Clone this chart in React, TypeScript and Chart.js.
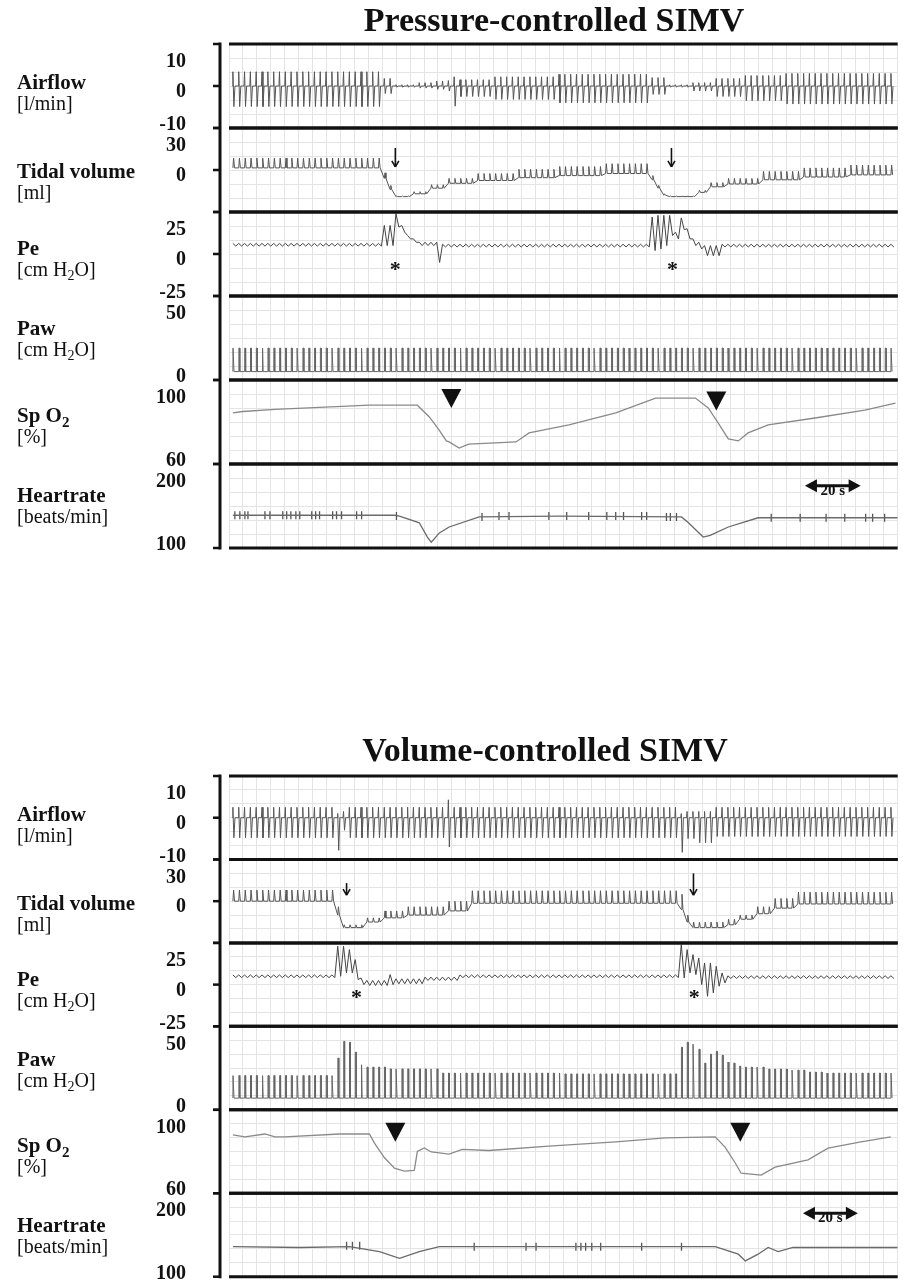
import React, { useEffect, useRef } from "react";
import { Chart, registerables } from "chart.js";

Chart.register(...registerables);

// ---------------- time base (seconds) ----------------
const timeMin = 0;
const timeMax = 240;
const gridStepSeconds = 5;
const breathStart = 1.4; // first ventilator breath (s)
const breathPeriod = 2.09; // ventilator cycle (s)

// ---------------- strips ----------------
const stripIds = ["air", "tv", "pe", "paw", "spo2", "hr"];
const stripNames = ["Airflow", "Tidal volume", "Pe", "Paw", "Sp O₂", "Heartrate"];
const stripUnits = ["[l/min]", "[ml]", "[cm H₂O]", "[cm H₂O]", "[%]", "[beats/min]"];
const stripMin = [-10, -30, -25, 0, 60, 100];
const stripMax = [10, 30, 25, 50, 100, 200];
const stripTickLabels = [[10, 0, -10], [30, 0], [25, 0, -25], [50, 0], [100, 60], [200, 100]];
const panelTitles = ["Pressure-controlled SIMV", "Volume-controlled SIMV"];

// ---------------- data: run-length per breath [number of breaths, value] ----------------
// Pressure-controlled SIMV
const pcAirflowPeak = [[26, 3.4], [2, 1.8], [4, 0.3], [3, 0.8], [2, 1.2], [1, 1.3], [1, 2.2], [6, 1.5], [11, 2.2], [16, 2.8], [3, 2], [4, 0.3], [4, 0.8], [5, 1.8], [7, 2.5], [19, 3.0]];
const pcAirflowTrough = [[26, -4.9], [2, -1.8], [4, -0.3], [3, -0.5], [2, -0.8], [1, -1.2], [1, -4.8], [6, -2.5], [11, -3.2], [16, -4.0], [3, -2], [4, -0.3], [4, -1.2], [5, -2.5], [7, -3.5], [19, -4.3]];
const pcTidalBase = [[26, 1.5], [1, -6], [1, -14], [3, -19], [3, -17], [3, -13], [5, -9.5], [7, -7.5], [7, -5.5], [8, -4], [8, -2.5], [1, -7], [1, -13], [1, -18], [5, -19], [2, -16], [3, -12], [6, -10], [7, -7], [8, -5], [8, -3.5]];
const pcTidalPeak = [[26, 8.5], [1, -2], [1, -11], [3, -18.5], [3, -15.5], [3, -10.5], [5, -6], [7, -2.5], [7, 0.5], [8, 2.5], [8, 4.5], [1, -4], [1, -11], [1, -17], [5, -18.5], [2, -14.5], [3, -9], [6, -6], [7, -1], [8, 1.5], [8, 3.5]];
const pcPeLevel = [[26, 5.5], [1, 11], [1, 11], [1, 20], [1, 15], [1, 10], [1, 8], [3, 6], [1, 1], [36, 5], [1, 12], [1, 13], [1, 14], [1, 17], [1, 11], [1, 18], [1, 12], [1, 7], [1, 5], [3, 2], [30, 5]];
const pcPeSwing = [[26, 0.8], [1, 6], [1, 6], [1, 4], [1, 2], [1, 1], [1, 1], [3, 1], [1, 6], [36, 0.8], [1, 10], [1, 10], [1, 9], [1, 6], [1, 2], [1, 3.5], [1, 3], [1, 2], [1, 2], [3, 3], [30, 0.8]];
const pcPawPeak = [[114, 19]];
const pcPawBase = [[114, 5]];
const pcSpo2 = [[1.4, 84.3], [5, 85], [16.5, 86], [32.5, 87], [50.4, 88], [67.6, 88], [71.9, 82.4], [75.5, 76], [78, 71], [79, 70.5], [82.6, 67.6], [86, 69.5], [103, 70.5], [107.7, 74.8], [122, 78.6], [138.8, 84.3], [153.1, 91.4], [167.4, 91.4], [172, 86.7], [175.6, 79.5], [179.2, 72], [182.8, 71], [186.3, 74.8], [193.5, 78.6], [210.3, 81.9], [228.2, 85.7], [239.2, 89]];
const pcHeartrate = [[1.4, 139], [59.4, 139], [61.2, 138], [68.3, 130], [71.2, 113], [72.6, 107], [75.5, 118], [79, 125], [89.8, 137], [118.4, 138], [162.4, 137], [164.9, 130], [170.2, 113], [172.7, 115], [179.2, 125], [189.9, 136], [240, 136]];
const pcHeartrateArtifacts = [[2.1, 139], [3.9, 139], [5.7, 139], [6.8, 139], [12.9, 139], [14.7, 139], [19.3, 139], [20.7, 139], [22.2, 139], [24, 139], [25.4, 139], [29.7, 139], [31.1, 139], [32.5, 139], [37.2, 139], [38.6, 139], [40.4, 139], [45.8, 139], [47.6, 139], [60.1, 138], [90.8, 137], [96.9, 138], [100.5, 138], [114.8, 138], [121.2, 138], [129.1, 138], [135.6, 138], [138.8, 138], [141.6, 138], [148.1, 138], [149.9, 138], [157, 137], [158.4, 137], [160.6, 137], [194.6, 136], [205, 136], [214.3, 136], [221, 136], [228.5, 136], [231, 136], [235.3, 136]];

// Volume-controlled SIMV
const vcAirflowPeak = [[18, 2.5], [1, 1], [1, 1.5], [17, 2.5], [1, 4.3], [39, 2.5], [1, 1], [2, 1.5], [3, 1.5], [31, 2.5]];
const vcAirflowTrough = [[18, -4.8], [1, -7.8], [1, -3], [17, -4.8], [1, -7], [39, -4.8], [1, -8.3], [2, -5], [3, -6], [31, -4.5]];
const vcTidalBase = [[18, 0], [1, -10], [4, -19], [3, -15], [4, -12], [7, -10], [4, -7], [36, -1.5], [1, -6], [1, -15], [6, -19], [2, -17], [3, -13], [3, -9], [4, -5], [17, -2]];
const vcTidalPeak = [[18, 8], [1, -4], [4, -17], [3, -12], [4, -7], [7, -4], [4, 0], [36, 7.5], [1, 5], [1, -10], [6, -15], [2, -13], [3, -10], [3, -4], [4, 2], [17, 6.5]];
const vcPeLevel = [[18, 5], [1, 14], [1, 15], [1, 14], [1, 9], [1, 2], [4, 1], [1, 3], [5, 2], [6, 3.5], [38, 5], [1, 14], [1, 14], [1, 12], [1, 8], [1, 3], [1, 4], [1, 5], [1, 4], [29, 4.5]];
const vcPeSwing = [[18, 0.8], [1, 9], [1, 8], [1, 7], [1, 6], [1, 2], [4, 1.5], [1, 3], [5, 1.5], [6, 1], [38, 0.8], [1, 10], [1, 7], [1, 6], [1, 8], [1, 10], [1, 9], [1, 6], [1, 3], [29, 0.8]];
const vcPawPeak = [[18, 20.5], [1, 31], [1, 41], [1, 40.5], [1, 34.5], [1, 27], [4, 25.6], [9, 24.5], [21, 22], [20, 21.5], [1, 37.5], [1, 40.5], [1, 39.3], [1, 36.3], [1, 28], [1, 33.3], [1, 35], [1, 32.7], [1, 28.6], [1, 28], [1, 26.2], [4, 25.6], [4, 24.4], [3, 23.8], [3, 22.6], [12, 22]];
const vcPawBase = [[114, 7]];
const vcSpo2 = [[1.4, 88], [5.7, 87], [12.9, 88.4], [16.5, 87], [20, 87], [39.7, 88.4], [50.4, 88.4], [52.2, 84], [55.8, 77], [59.4, 72], [62.9, 70.6], [66.5, 71], [67.6, 80], [70.1, 81.7], [72.6, 79.8], [79, 78.8], [83.7, 81], [93.3, 80.5], [114.8, 82.6], [138.8, 84.6], [156.7, 86.5], [174.5, 87], [178.1, 82], [181.7, 74.5], [183.8, 69.6], [191, 68.7], [196, 72.5], [207.8, 76], [215, 81.6], [226.8, 84.6], [237.5, 87]];
const vcHeartrate = [[1.4, 136], [25.4, 135], [43.3, 136], [54, 130], [61.2, 122], [68.3, 130], [75.5, 136], [174.5, 136], [182.8, 127], [185.3, 119], [189.9, 127], [193.5, 135], [197.1, 130], [202.4, 135], [240, 135]];
const vcHeartrateArtifacts = [[42.2, 137], [44.3, 137], [46.9, 137], [88, 136], [106.6, 136], [110.2, 136], [124.5, 136], [126.3, 136], [128, 136], [130.2, 136], [133.4, 136], [148.1, 136], [162.4, 136]];

// ---------------- annotations (data coordinates) ----------------
const pcArrowsTidal = [[59.7, 15.7, 2.2], [158.8, 15.7, 2.2]]; // t, from, to
const pcStarsPe = [[59.7, -6.5], [159.2, -6.5]];
const pcTrianglesSpo2 = [[79.8, 91.2], [174.9, 90]];
const pcTimeBar = [206.7, 226.7, 174];
const vcArrowsTidal = [[42.2, 13, 4.3], [166.7, 20, 4.3]];
const vcStarsPe = [[45.8, -4.8], [167, -4.8]];
const vcTrianglesSpo2 = [[59.7, 89.2], [183.5, 89.2]];
const vcTimeBar = [206, 225.7, 176];

// ---------------- layout / style ----------------
const FONT = '"Liberation Serif", "Times New Roman", serif';
const GRID = "#e4e4e4";
const TRACE = "#555555";
const panelLayouts = [
  { top: 0, height: 640, padTop: 44, padBottom: 92, titleX: 554, titleY: 22 },
  { top: 640, height: 642, padTop: 136, padBottom: 5, titleX: 545, titleY: 112 },
];
const nameOffsets = [40, 45, 38, 34, 37, 33];

type Run = number[];
function expand(runs: Run[]): number[] {
  const out: number[] = [];
  runs.forEach(([n, v]) => {
    for (let k = 0; k < n; k++) out.push(v);
  });
  return out;
}
const breathTime = (i: number) => breathStart + i * breathPeriod;

function airflowPoints(peakRuns: Run[], troughRuns: Run[]) {
  const up = expand(peakRuns);
  const down = expand(troughRuns);
  const pts: { x: number; y: number }[] = [];
  up.forEach((u, i) => {
    const t = breathTime(i);
    pts.push({ x: t - 0.2, y: 0 }, { x: t, y: u }, { x: t + 0.35, y: down[i] }, { x: t + 0.75, y: 0 });
  });
  return pts;
}
function tidalPoints(baseRuns: Run[], peakRuns: Run[]) {
  const b = expand(baseRuns);
  const p = expand(peakRuns);
  const pts: { x: number; y: number }[] = [];
  b.forEach((bv, i) => {
    const t = breathTime(i);
    pts.push({ x: t, y: bv }, { x: t + 0.25, y: p[i] }, { x: t + 0.6, y: bv });
  });
  return pts;
}
function pePoints(levelRuns: Run[], swingRuns: Run[]) {
  const L = expand(levelRuns);
  const a = expand(swingRuns);
  const pts: { x: number; y: number }[] = [];
  L.forEach((lv, i) => {
    const t = breathTime(i);
    pts.push({ x: t, y: lv + a[i] }, { x: t + 1.05, y: lv - a[i] });
  });
  return pts;
}
function pawPoints(peakRuns: Run[], baseRuns: Run[]) {
  const p = expand(peakRuns);
  const b = expand(baseRuns);
  const pts: { x: number; y: number }[] = [];
  p.forEach((pv, i) => {
    const t = breathTime(i);
    pts.push({ x: t, y: b[i] }, { x: t + 0.05, y: pv }, { x: t + 0.35, y: pv }, { x: t + 0.4, y: b[i] });
  });
  return pts;
}
const pairPoints = (arr: number[][]) => arr.map(([x, y]) => ({ x, y }));

const panelData = [
  {
    air: airflowPoints(pcAirflowPeak, pcAirflowTrough),
    tv: tidalPoints(pcTidalBase, pcTidalPeak),
    pe: pePoints(pcPeLevel, pcPeSwing),
    paw: pawPoints(pcPawPeak, pcPawBase),
    spo2: pairPoints(pcSpo2),
    hr: pairPoints(pcHeartrate),
    hrArt: pairPoints(pcHeartrateArtifacts),
    arrows: pcArrowsTidal,
    stars: pcStarsPe,
    triangles: pcTrianglesSpo2,
    timeBar: pcTimeBar,
  },
  {
    air: airflowPoints(vcAirflowPeak, vcAirflowTrough),
    tv: tidalPoints(vcTidalBase, vcTidalPeak),
    pe: pePoints(vcPeLevel, vcPeSwing),
    paw: pawPoints(vcPawPeak, vcPawBase),
    spo2: pairPoints(vcSpo2),
    hr: pairPoints(vcHeartrate),
    hrArt: pairPoints(vcHeartrateArtifacts),
    arrows: vcArrowsTidal,
    stars: vcStarsPe,
    triangles: vcTrianglesSpo2,
    timeBar: vcTimeBar,
  },
];

function drawRich(ctx: CanvasRenderingContext2D, text: string, x: number, y: number, size: number, bold: boolean, align: "left" | "right") {
  const base = `${bold ? "bold " : ""}${size}px ${FONT}`;
  const sub = `${bold ? "bold " : ""}${Math.round(size * 0.72)}px ${FONT}`;
  const parts: { s: string; sub: boolean; w: number }[] = [];
  for (const ch of text) {
    const isSub = ch === "₂";
    const c = isSub ? "2" : ch;
    const last = parts[parts.length - 1];
    if (last && last.sub === isSub) last.s += c;
    else parts.push({ s: c, sub: isSub, w: 0 });
  }
  let total = 0;
  parts.forEach((p) => {
    ctx.font = p.sub ? sub : base;
    p.w = ctx.measureText(p.s).width;
    total += p.w;
  });
  let cx = align === "right" ? x - total : x;
  ctx.textAlign = "left";
  ctx.textBaseline = "middle";
  parts.forEach((p) => {
    ctx.font = p.sub ? sub : base;
    ctx.fillText(p.s, cx, p.sub ? y + size * 0.28 : y);
    cx += p.w;
  });
}

function decorPlugin(panelIndex: number) {
  const L = panelLayouts[panelIndex];
  const D = panelData[panelIndex];
  return {
    id: "stripDecor",
    afterDraw(chart: any) {
      const { ctx, chartArea, scales } = chart;
      const xs = scales.x;
      ctx.save();
      ctx.fillStyle = "#111";
      ctx.strokeStyle = "#111";
      ctx.lineCap = "butt";
      const line = (x1: number, y1: number, x2: number, y2: number) => {
        ctx.beginPath();
        ctx.moveTo(x1, y1);
        ctx.lineTo(x2, y2);
        ctx.stroke();
      };
      // strip separators
      ctx.lineWidth = 3;
      stripIds.forEach((id) => {
        const s = scales[id];
        line(chartArea.left, s.top, chartArea.right, s.top);
        line(chartArea.left, s.bottom, chartArea.right, s.bottom);
      });
      // left axis
      const axisX = chartArea.left - 9;
      const first = scales[stripIds[0]];
      const last = scales[stripIds[stripIds.length - 1]];
      line(axisX, first.top - 1.5, axisX, last.bottom + 1.5);
      ctx.lineWidth = 2.5;
      stripIds.forEach((id, k) => {
        const s = scales[id];
        line(axisX - 7, s.top, axisX, s.top);
        line(axisX - 7, s.bottom, axisX, s.bottom);
        if (stripMin[k] < 0 && stripMax[k] > 0) {
          const y0 = s.getPixelForValue(0);
          line(axisX - 7, y0, axisX, y0);
        }
        // tick labels
        stripTickLabels[k].forEach((v) => {
          let y = s.getPixelForValue(v) + 6;
          if (v === stripMax[k]) y = s.top + 18;
          if (v === stripMin[k]) y = s.bottom - 3;
          drawRich(ctx, String(v), 186, y, 20, true, "right");
        });
        // strip names and units
        const ny = s.top + nameOffsets[k];
        drawRich(ctx, stripNames[k], 17, ny, 21, true, "left");
        drawRich(ctx, stripUnits[k], 17, ny + 21, 20, false, "left");
      });
      // title
      ctx.font = `bold 34px ${FONT}`;
      ctx.textAlign = "center";
      ctx.textBaseline = "middle";
      ctx.fillText(panelTitles[panelIndex], L.titleX, L.titleY);

      // arrows in tidal volume strip
      const tv = scales.tv;
      ctx.lineWidth = 1.6;
      D.arrows.forEach(([t, from, to]) => {
        const x = xs.getPixelForValue(t);
        const y1 = tv.getPixelForValue(from);
        const y2 = tv.getPixelForValue(to);
        line(x, y1, x, y2);
        line(x - 3.5, y2 - 6, x, y2);
        line(x + 3.5, y2 - 6, x, y2);
      });
      // stars in Pe strip
      const pe = scales.pe;
      ctx.font = `bold 22px ${FONT}`;
      ctx.textAlign = "center";
      ctx.textBaseline = "alphabetic";
      D.stars.forEach(([t, v]) => {
        const x = xs.getPixelForValue(t);
        const y = pe.getPixelForValue(v);
        ctx.fillText("*", x, y + 11);
      });
      // triangles in SpO2 strip
      const sp = scales.spo2;
      D.triangles.forEach(([t, v]) => {
        const x = xs.getPixelForValue(t);
        const y = sp.getPixelForValue(v);
        ctx.beginPath();
        ctx.moveTo(x - 10, y - 9.5);
        ctx.lineTo(x + 10, y - 9.5);
        ctx.lineTo(x, y + 9.5);
        ctx.closePath();
        ctx.fill();
      });
      // 20 s time bar in heartrate strip
      const hr = scales.hr;
      const [t0, t1, hv] = D.timeBar;
      const bx0 = xs.getPixelForValue(t0);
      const bx1 = xs.getPixelForValue(t1);
      const by = hr.getPixelForValue(hv);
      ctx.lineWidth = 3;
      line(bx0 + 8, by, bx1 - 8, by);
      ctx.beginPath();
      ctx.moveTo(bx0, by);
      ctx.lineTo(bx0 + 12, by - 6.5);
      ctx.lineTo(bx0 + 12, by + 6.5);
      ctx.closePath();
      ctx.fill();
      ctx.beginPath();
      ctx.moveTo(bx1, by);
      ctx.lineTo(bx1 - 12, by - 6.5);
      ctx.lineTo(bx1 - 12, by + 6.5);
      ctx.closePath();
      ctx.fill();
      ctx.font = `bold 15px ${FONT}`;
      ctx.textAlign = "center";
      ctx.textBaseline = "middle";
      ctx.fillText("20 s", (bx0 + bx1) / 2, by + 5);
      ctx.restore();
    },
  };
}

function buildConfig(panelIndex: number): any {
  const L = panelLayouts[panelIndex];
  const D = panelData[panelIndex];
  const lineDs = (data: any[], yAxisID: string, color: string, width: number) => ({
    type: "line",
    data,
    yAxisID,
    xAxisID: "x",
    borderColor: color,
    borderWidth: width,
    pointRadius: 0,
    tension: 0,
    fill: false,
  });
  const datasets: any[] = [
    lineDs(D.air, "air", TRACE, 1),
    lineDs(D.tv, "tv", TRACE, 1),
    lineDs(D.pe, "pe", "#444444", 1),
    lineDs(D.paw, "paw", "#666666", 1),
    lineDs(D.spo2, "spo2", "#8a8a8a", 1.3),
    lineDs(D.hr, "hr", "#6a6a6a", 1.3),
    {
      type: "line",
      data: D.hrArt,
      yAxisID: "hr",
      xAxisID: "x",
      showLine: false,
      pointStyle: "line",
      rotation: 90,
      pointRadius: 4,
      pointBorderWidth: 1.3,
      pointBorderColor: "#555",
      borderColor: "#555",
    },
  ];
  const scales: any = {
    x: {
      type: "linear",
      min: timeMin,
      max: timeMax,
      ticks: { display: false, stepSize: gridStepSeconds },
      grid: { color: GRID, lineWidth: 1, drawTicks: false },
      border: { display: false },
    },
  };
  stripIds.forEach((id, k) => {
    scales[id] = {
      type: "linear",
      position: "left",
      stack: "strips",
      stackWeight: 1,
      weight: stripIds.length - k,
      min: stripMin[k],
      max: stripMax[k],
      ticks: { display: false, count: 7 },
      grid: {
        drawTicks: false,
        lineWidth: 1,
        color: (c: any) => (c.index === 0 || c.index === 6 ? "rgba(0,0,0,0)" : GRID),
      },
      border: { display: false },
    };
  });
  return {
    type: "line",
    data: { datasets },
    options: {
      animation: false,
      responsive: false,
      devicePixelRatio: 1,
      events: [],
      layout: { padding: { left: 229, right: 3, top: L.padTop, bottom: L.padBottom } },
      plugins: { legend: { display: false }, tooltip: { enabled: false }, title: { display: false } },
      scales,
    },
    plugins: [decorPlugin(panelIndex)],
  };
}

function Panel({ index }: { index: number }) {
  const ref = useRef<HTMLCanvasElement>(null);
  useEffect(() => {
    if (!ref.current) return;
    const chart = new Chart(ref.current, buildConfig(index));
    return () => chart.destroy();
  }, [index]);
  const L = panelLayouts[index];
  return (
    <canvas
      ref={ref}
      width={903}
      height={L.height}
      style={{ position: "absolute", left: 0, top: L.top, width: 903, height: L.height }}
    />
  );
}

export default function App() {
  return (
    <div style={{ position: "absolute", left: 0, top: 0, width: 903, height: 1282, background: "#fff" }}>
      <Panel index={0} />
      <Panel index={1} />
    </div>
  );
}
